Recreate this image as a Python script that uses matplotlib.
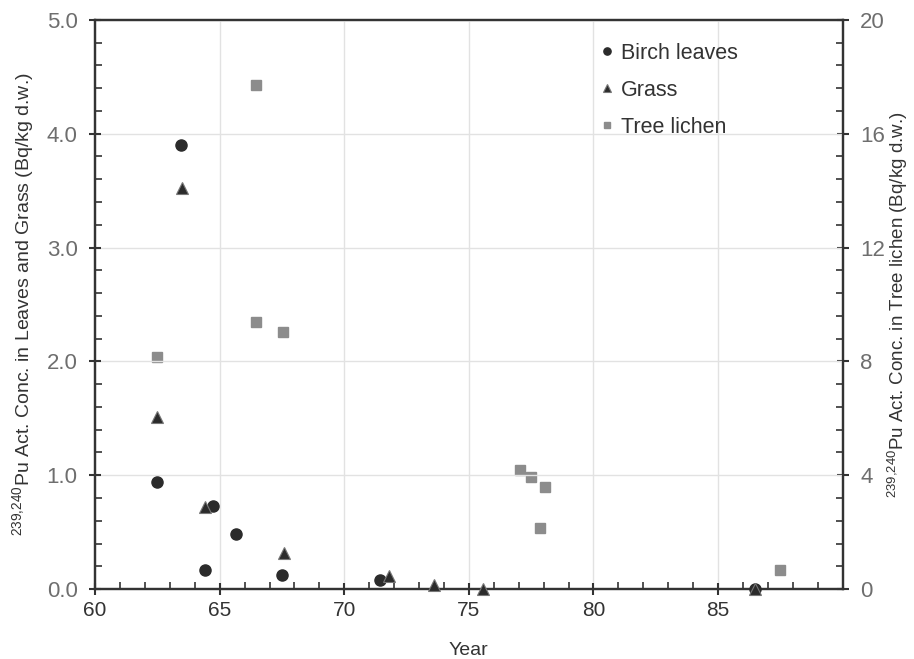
import numpy as np
import matplotlib.pyplot as plt
from matplotlib.ticker import MultipleLocator

plt.rcParams['font.family'] = ['Liberation Sans', 'DejaVu Sans']
plt.rcParams['mathtext.default'] = 'regular'

# data
birch_year = [62.5, 63.45, 64.4, 64.75, 65.65, 67.5, 71.45, 86.5]
birch_conc = [0.94, 3.90, 0.17, 0.73, 0.48, 0.12, 0.08, 0.0]

grass_year = [62.5, 63.5, 64.4, 67.6, 71.8, 73.6, 75.55, 86.5]
grass_conc = [1.51, 3.52, 0.72, 0.32, 0.115, 0.04, 0.0, 0.0]

lichen_year = [62.5, 66.45, 66.45, 67.55, 77.05, 77.5, 78.05, 77.85, 87.5]
lichen_conc = [8.16, 17.7, 9.37, 9.05, 4.17, 3.93, 3.59, 2.15, 0.68]

dark = '#2b2b2b'
grey = '#8c8c8c'
axis_col = '#333333'
tick_col = '#6e6e6e'

fig = plt.figure(figsize=(9.14, 6.59), dpi=100)
ax = fig.add_axes([0.104, 0.106, 0.818, 0.864])
ax2 = ax.twinx()

ax.set_zorder(ax2.get_zorder() + 1)
ax.patch.set_visible(False)

h1, = ax.plot(birch_year, birch_conc, 'o', color=dark, ms=8, mec=dark,
              clip_on=False, zorder=5, label='Birch leaves')
h2, = ax.plot(grass_year, grass_conc, '^', color=dark, ms=8, mec='#777777',
              mew=0.8, clip_on=False, zorder=6, label='Grass')
h3, = ax2.plot(lichen_year, lichen_conc, 's', color=grey, ms=7.5, mec=grey,
               clip_on=False, zorder=5, label='Tree lichen')

ax.set_xlim(60, 90)
ax.set_ylim(0, 5)
ax2.set_ylim(0, 20)

ax.set_xticks([60, 65, 70, 75, 80, 85])
ax.xaxis.set_minor_locator(MultipleLocator(1))
ax.set_yticks([0, 1, 2, 3, 4, 5])
ax.set_yticklabels(['0.0', '1.0', '2.0', '3.0', '4.0', '5.0'])
ax.yaxis.set_minor_locator(MultipleLocator(0.2))
ax2.set_yticks([0, 4, 8, 12, 16, 20])
ax2.yaxis.set_minor_locator(MultipleLocator(0.8))

ax.grid(True, which='major', color='#e2e2e2', lw=1)
ax.set_axisbelow(True)

for a in (ax, ax2):
    for s in a.spines.values():
        s.set_color(axis_col)
        s.set_linewidth(1.6)
    a.tick_params(which='major', direction='inout', length=9, width=1.5,
                  color=axis_col)
    a.tick_params(which='minor', direction='in', length=5, width=1.2,
                  color=axis_col)

ax.tick_params(axis='y', labelsize=16, labelcolor=tick_col, pad=8)
ax2.tick_params(axis='y', labelsize=16, labelcolor=tick_col, pad=8)
ax.tick_params(axis='x', labelsize=15, labelcolor=axis_col, pad=4)

ax.set_xlabel('Year', fontsize=14, color=axis_col, labelpad=16)
ax.set_ylabel('$^{239{,}240}$Pu Act. Conc. in Leaves and Grass (Bq/kg d.w.)',
              fontsize=14, color=axis_col, labelpad=8)
ax2.set_ylabel('$^{239{,}240}$Pu Act. Conc. in Tree lichen (Bq/kg d.w.)',
               fontsize=13.5, color=axis_col, labelpad=1)

leg = ax.legend(handles=[h1, h2, h3], loc='upper left',
                bbox_to_anchor=(0.665, 0.975), frameon=False, fontsize=15.5,
                markerscale=0.65, handlelength=0.6, handletextpad=0.35,
                labelspacing=0.75, borderaxespad=0)
for t in leg.get_texts():
    t.set_color(axis_col)

fig.savefig('out.png', dpi=100)
